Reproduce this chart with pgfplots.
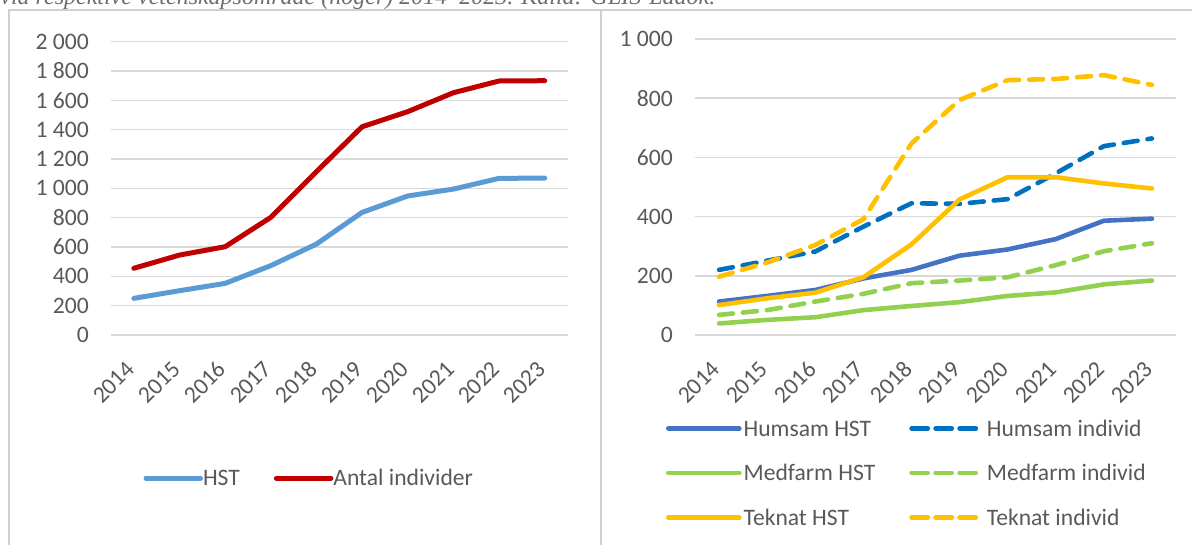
\documentclass[border=0pt]{standalone}
\usepackage{pgfplots}
\pgfplotsset{compat=1.18}
\usepackage{fontspec}
\setmainfont{Carlito}
\newfontfamily\capfont{Liberation Serif}
\definecolor{textgray}{HTML}{595959}
\definecolor{gridgray}{HTML}{D9D9D9}
\definecolor{bordergray}{HTML}{D0D0D0}
\definecolor{capgray}{HTML}{6E6E6E}
\definecolor{hstblue}{HTML}{5B9BD5}
\definecolor{indred}{HTML}{C00000}
\definecolor{humhst}{HTML}{4472C4}
\definecolor{humind}{HTML}{0070C0}
\definecolor{medgreen}{HTML}{92D050}
\definecolor{tekyel}{HTML}{FFC000}
\pgfplotsset{
  mybase/.style={
    anchor=south west, scale only axis,
    xmin=-0.5, xmax=9.5, ymin=0,
    xtick={0,1,2,3,4,5,6,7,8,9},
    xticklabels={2014,2015,2016,2017,2018,2019,2020,2021,2022,2023},
    axis line style={draw=none}, tick style={draw=none},
    ymajorgrids, major grid style={gridgray, line width=0.75pt},
    clip=false,
    tick label style={font=\fontsize{11.8pt}{14pt}\selectfont, text=textgray},
    /pgf/number format/assume math mode=true,
    /pgf/number format/1000 sep={\ },
    yticklabel style={xshift=-7.6pt},
    xticklabel style={inner sep=0pt, xshift=-1.5pt, yshift=-15pt, rotate=45, anchor=east},
    legend cell align=left,
    legend columns=2,
    legend style={draw=none, fill=none, inner sep=0pt, outer sep=0pt,
      font=\fontsize{11.8pt}{14pt}\selectfont, text=textgray,
      nodes={inner sep=0pt, text height=8.6pt, text depth=1pt}},
  }
}
\begin{document}
\begin{tikzpicture}
\useasboundingbox (0,0) rectangle (596pt,272.5pt);
\clip (0,0) rectangle (596pt,272.5pt);
\node[anchor=base west, inner sep=0pt, text=capgray, font=\capfont\itshape\fontsize{12pt}{14pt}\selectfont] at (0,270pt) {via respektive vetenskapsområde (höger) 2014–2023. Källa: GLIS-Ladok.};
\draw[bordergray, line width=1pt] (4.25pt,0) -- (4.25pt,267.5pt) -- (600pt,267.5pt);
\draw[bordergray, line width=1pt] (300.25pt,0) -- (300.25pt,267.5pt);

\begin{axis}[mybase, at={(55.5pt,105pt)}, width=228.25pt, height=146.65pt,
  ymax=2000, ytick={0,200,...,2000},
  legend style={at={(0.0712,-0.4876)}, anchor=west,
    /tikz/every odd column/.append style={column sep=0pt},
    /tikz/every even column/.append style={column sep=17pt}},
  legend image code/.code={\path (0,0) -- (27.25pt,0); \draw[#1, line cap=round] (1.25pt,0) -- (26pt,0);},
]
\addplot[hstblue, line width=2.5pt, line join=round, line cap=round] coordinates {
(0,250) (1,302) (2,352) (3,473) (4,620) (5,836) (6,948) (7,995) (8,1068) (9,1070)};
\addlegendentry{HST}
\addplot[indred, line width=2.5pt, line join=round, line cap=round] coordinates {
(0,455) (1,545) (2,602) (3,802) (4,1114) (5,1420) (6,1523) (7,1652) (8,1732) (9,1734)};
\addlegendentry{Antal individer}
\end{axis}

\begin{axis}[mybase, at={(347.5pt,105pt)}, width=240.5pt, height=148pt,
  ymax=1000, ytick={0,200,...,1000},
  legend style={at={(-0.0603,-0.466)}, anchor=west,
    /tikz/every odd column/.append style={column sep=1pt},
    /tikz/every even column/.append style={column sep=17pt},
    row sep=12.65pt},
  legend image code/.code={\path (0,0) -- (35.5pt,0); \draw[#1, line cap=round] (1.1pt,0) -- (34.4pt,0);},
  every axis plot/.append style={line width=2.3pt, line join=round, line cap=round},
]
\addplot[humhst] coordinates {
(0,113) (1,132) (2,152) (3,191) (4,220) (5,268) (6,289) (7,324) (8,386) (9,393)};
\addlegendentry{Humsam HST}
\addplot[humind, dash pattern=on 7pt off 5pt] coordinates {
(0,220) (1,251) (2,282) (3,366) (4,445) (5,443) (6,459) (7,546) (8,638) (9,664)};
\addlegendentry{Humsam individ}
\addplot[medgreen] coordinates {
(0,39) (1,51) (2,60) (3,84) (4,98) (5,111) (6,132) (7,144) (8,171) (9,184)};
\addlegendentry{Medfarm HST}
\addplot[medgreen, dash pattern=on 7pt off 5pt] coordinates {
(0,68) (1,84) (2,113) (3,139) (4,175) (5,184) (6,195) (7,236) (8,283) (9,310)};
\addlegendentry{Medfarm individ}
\addplot[tekyel] coordinates {
(0,101) (1,124) (2,143) (3,195) (4,306) (5,458) (6,533) (7,533) (8,512) (9,495)};
\addlegendentry{Teknat HST}
\addplot[tekyel, dash pattern=on 7pt off 5pt] coordinates {
(0,197) (1,245) (2,304) (3,391) (4,647) (5,794) (6,861) (7,865) (8,878) (9,845)};
\addlegendentry{Teknat individ}
\end{axis}
\end{tikzpicture}
\end{document}
